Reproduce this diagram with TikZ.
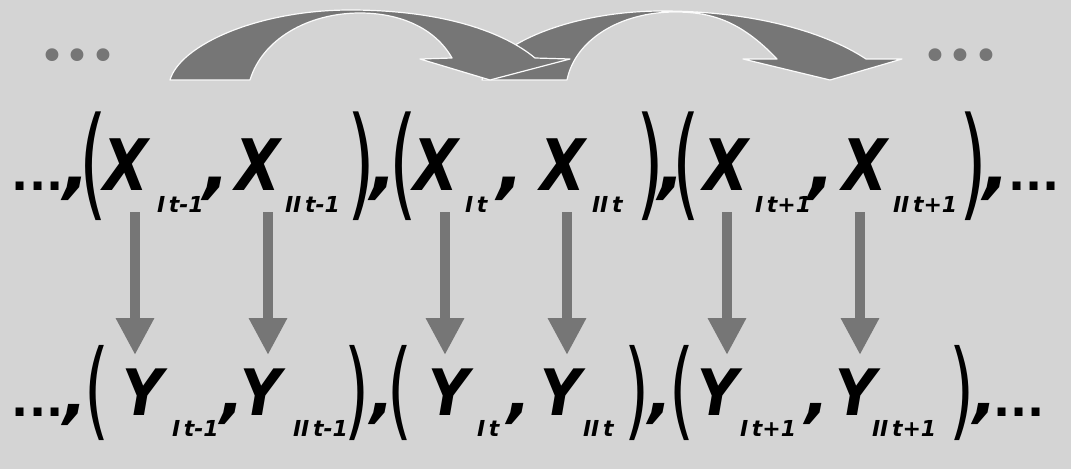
\documentclass[tikz,border=0pt]{standalone}
\usepackage{fontspec}
\setmainfont{DejaVu Sans}[ItalicFont={DejaVu Sans Oblique},BoldFont={DejaVu Sans Bold},BoldItalicFont={DejaVu Sans Bold Oblique}]
\usetikzlibrary{arrows.meta}
\definecolor{bg}{RGB}{212,212,212}
\definecolor{agray}{RGB}{118,118,118}
\newcommand\fX{\fontsize{71}{71}\selectfont\bfseries\itshape}
\newcommand\fY{\fontsize{64}{64}\selectfont\bfseries\itshape}
\newcommand\fS{\fontsize{22}{22}\selectfont\bfseries\itshape}
\newcommand\fD{\fontsize{45}{45}\selectfont\bfseries}
\newcommand\fB{\fontsize{44}{44}\selectfont}
\newcommand\fP{\fontsize{71}{71}\selectfont}
\newcommand\fPy{\fontsize{64}{64}\selectfont}
\newcommand\parX[1]{\fP\kern-6pt\scalebox{1}[1.72]{#1}\kern-7pt}
\newcommand\parY[1]{\fPy\kern-5.5pt\scalebox{1}[1.67]{#1}\kern-6.5pt}
\newcommand\cmX{\fX,\kern-10pt}
\newcommand\cmY{\fY,\kern-9pt}
\newcommand\LX{\fX\scalebox{0.82}[1]{X}}
\newcommand\LY{\fY\scalebox{0.88}[1]{Y}}
\tikzset{
  txt/.style={anchor=base west, inner sep=0pt, outer sep=0pt},
  parn/.style={anchor=north west, inner sep=0pt, outer sep=0pt},
  varrow/.style={line width=10pt, draw=agray, -{Triangle[width=36pt,length=37pt]}},
  bigarrow/.style={fill=agray, draw=white!90!bg, line width=1.2pt, line join=round}
}
\begin{document}
\begin{tikzpicture}[x=1pt,y=-1pt]
\useasboundingbox (0,0) rectangle (1071,469);
\fill[bg] (0,0) rectangle (1071,469);

% curved arrows
\path[bigarrow] (482,80) .. controls (492,45) and (570,11) .. (662,11)
  .. controls (760,11) and (830,35) .. (866,59) -- (902,59) -- (830,80) -- (743,59) -- (777,59)
  .. controls (740,20) and (710,12) .. (675,12) .. controls (620,12) and (575,40) .. (567,80) -- cycle;
\path[bigarrow] (170,80) .. controls (180,45) and (258,10) .. (350,10)
  .. controls (445,10) and (505,33) .. (535,58) -- (570,59) -- (490,80) -- (420,59) -- (452,58)
  .. controls (435,28) and (400,13) .. (360,13) .. controls (307,13) and (262,40) .. (250,80) -- cycle;

% top dots
\node[txt, text=agray] (tdl) at (39,71) {\fB •••};
\node[txt, text=agray] (tdr) at (922,71) {\fB •••};

% X row
\node[txt] (xdl) at (12,190) {{\fD...}{\cmX}};
\node[parn] (xp1) at (85,112) {\parX{(}};
\node[txt] (x1) at (103,190) {\LX};
\node[txt] (x1s) at (157,212) {\fS I\,t-1};
\node[txt] (xc1) at (203,190) {\cmX};
\node[txt] (x2) at (235,190) {\LX};
\node[txt] (x2s) at (285,212) {\fS II\,t-1};
\node[parn] (xq1) at (353,112) {\parX{)}};
\node[txt] (xc2) at (370,190) {\cmX};
\node[parn] (xp2) at (395,112) {\parX{(}};
\node[txt] (x3) at (413,190) {\LX};
\node[txt] (x3s) at (465,212) {\fS I\,t};
\node[txt] (xc3) at (497,190) {\cmX};
\node[txt] (x4) at (540,190) {\LX};
\node[txt] (x4s) at (592,212) {\fS II\,t};
\node[parn] (xq2) at (642,112) {\parX{)}};
\node[txt] (xc4) at (658,190) {\cmX};
\node[parn] (xp3) at (678,112) {\parX{(}};
\node[txt] (x5) at (703,190) {\LX};
\node[txt] (x5s) at (755,212) {\fS I\,t+1};
\node[txt] (xc5) at (808,190) {\cmX};
\node[txt] (x6) at (842,190) {\LX};
\node[txt] (x6s) at (893,212) {\fS II\,t+1};
\node[parn] (xq3) at (965,112) {\parX{)}};
\node[txt] (xc6) at (983,190) {\cmX};
\node[txt] (xdr) at (1008,190) {\fD...};

% Y row
\node[txt] (ydl) at (12,416) {{\fD...}{\cmY}};
\node[parn] (yp1) at (90,345) {\parY{(}};
\node[txt] (y1) at (122,415) {\LY};
\node[txt] (y1s) at (172,436) {\fS I\,t-1};
\node[txt] (yc1) at (220,415) {\cmY};
\node[txt] (y2) at (240,415) {\LY};
\node[txt] (y2s) at (293,436) {\fS II\,t-1};
\node[parn] (yq1) at (350,345) {\parY{)}};
\node[txt] (yc2) at (370,415) {\cmY};
\node[parn] (yp2) at (393,345) {\parY{(}};
\node[txt] (y3) at (428,415) {\LY};
\node[txt] (y3s) at (477,436) {\fS I\,t};
\node[txt] (yc3) at (507,415) {\cmY};
\node[txt] (y4) at (540,415) {\LY};
\node[txt] (y4s) at (583,436) {\fS II\,t};
\node[parn] (yq2) at (630,345) {\parY{)}};
\node[txt] (yc4) at (648,415) {\cmY};
\node[parn] (yp3) at (675,345) {\parY{(}};
\node[txt] (y5) at (697,415) {\LY};
\node[txt] (y5s) at (740,436) {\fS I\,t+1};
\node[txt] (yc5) at (805,415) {\cmY};
\node[txt] (y6) at (835,415) {\LY};
\node[txt] (y6s) at (872,436) {\fS II\,t+1};
\node[parn] (yq3) at (955,345) {\parY{)}};
\node[txt] (yc6) at (973,415) {\cmY};
\node[txt] (ydr) at (993,416) {\fD...};

% vertical arrows
\foreach \i/\x in {1/135,2/268,3/445,4/567,5/727,6/860}{
  \coordinate (a\i s) at (\x,212);
  \coordinate (a\i e) at (\x,355);
  \draw[varrow] (a\i s) -- (a\i e);
}
\end{tikzpicture}
\end{document}
